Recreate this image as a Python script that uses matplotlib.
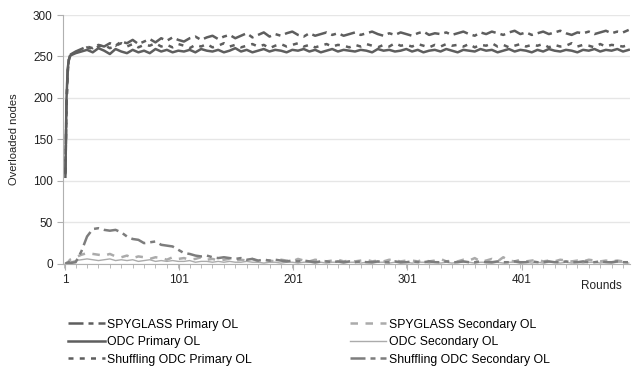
# Overloaded nodes per round: primary and secondary overload for three schemes

import matplotlib.pyplot as plt
from matplotlib.ticker import MultipleLocator

rounds = [1, 2, 3, 4] + list(range(5, 500, 5))

spyglass_primary = [108, 195, 232, 247,
    252, 256, 259, 262, 260, 264, 262, 266, 263, 268,
    266, 270, 265, 268, 271, 267, 272, 269, 273, 270,
    268, 272, 274, 270, 273, 275, 271, 274, 276, 272,
    275, 278, 273, 276, 279, 274, 277, 275, 278, 280,
    276, 274, 278, 275, 277, 279, 276, 278, 275, 277,
    279, 276, 278, 280, 277, 275, 278, 276, 279, 277,
    275, 278, 280, 276, 278, 277, 279, 276, 278, 280,
    277, 275, 279, 277, 280, 278, 276, 279, 281, 277,
    279, 276, 278, 280, 277, 279, 281, 278, 276, 279,
    278, 280, 277, 279, 281, 278, 280, 279, 282]

odc_primary = [105, 200, 235, 246,
    251, 254, 256, 258, 255, 260, 257, 253, 259, 256,
    254, 258, 255, 257, 254, 259, 256, 258, 255, 257,
    256, 258, 255, 259, 257, 256, 258, 255, 257, 260,
    256, 258, 255, 257, 259, 256, 258, 257, 255, 258,
    257, 259, 256, 258, 255, 257, 259, 256, 258, 257,
    256, 258, 257, 255, 259, 257, 258, 256, 257, 259,
    256, 258, 255, 257, 258, 256, 259, 257, 255, 258,
    257, 256, 259, 257, 258, 255, 257, 259, 256, 258,
    257, 255, 258, 256, 259, 257, 256, 258, 257, 255,
    258, 257, 259, 256, 258, 257, 259, 256, 258]

shuffling_primary = [110, 190, 230, 245,
    250, 255, 258, 261, 259, 262, 264, 260, 263, 266,
    262, 265, 261, 264, 263, 266, 262, 264, 261, 265,
    263, 260, 264, 262, 265, 261, 263, 266, 262, 264,
    261, 263, 265, 262, 264, 260, 263, 265, 262, 264,
    266, 262, 264, 261, 263, 265, 262, 264, 263, 261,
    264, 262, 265, 263, 261, 264, 262, 266, 263, 264,
    262, 265, 263, 261, 264, 262, 265, 263, 264, 262,
    265, 261, 264, 263, 266, 262, 264, 261, 263, 265,
    262, 264, 263, 265, 261, 264, 262, 263, 266, 262,
    264, 263, 261, 265, 262, 264, 263, 262, 264]

spyglass_secondary = [0, 1, 2, 3,
    5, 8, 11, 13, 12, 11, 10, 12, 9, 8,
    10, 7, 9, 8, 6, 8, 7, 5, 8, 6,
    7, 5, 6, 8, 5, 6, 4, 5, 6, 4,
    5, 4, 6, 3, 5, 4, 3, 5, 4, 3,
    6, 4, 3, 5, 4, 3, 4, 5, 3, 4,
    3, 4, 5, 3, 4, 3, 5, 4, 3, 4,
    4, 3, 5, 3, 4, 6, 3, 4, 3, 5,
    4, 7, 3, 4, 6, 3, 8, 4, 3, 5,
    3, 4, 5, 3, 4, 3, 5, 4, 3, 4,
    3, 5, 4, 3, 4, 3, 4, 3, 3]

odc_secondary = [0, 1, 1, 2,
    2, 4, 5, 6, 5, 4, 5, 6, 4, 5,
    4, 5, 3, 4, 5, 3, 4, 3, 4, 3,
    3, 4, 2, 3, 3, 2, 3, 2, 3, 2,
    2, 3, 2, 2, 1, 2, 2, 1, 2, 2,
    1, 2, 2, 1, 2, 1, 2, 2, 1, 2,
    2, 1, 2, 1, 2, 2, 1, 2, 1, 2,
    1, 2, 2, 1, 2, 1, 2, 1, 2, 2,
    2, 1, 2, 2, 1, 2, 1, 2, 2, 1,
    2, 1, 2, 1, 2, 2, 1, 2, 1, 2,
    1, 2, 2, 1, 2, 1, 2, 2, 1]

shuffling_secondary = [0, 1, 1, 2,
    1, 2, 15, 33, 42, 43, 41, 40, 41, 38,
    33, 30, 29, 25, 26, 27, 23, 22, 21, 17,
    13, 12, 10, 9, 10, 8, 7, 8, 7, 6,
    7, 5, 6, 4, 5, 4, 5, 4, 3, 4,
    3, 4, 3, 2, 3, 3, 2, 3, 2, 3,
    2, 3, 2, 2, 3, 2, 2, 3, 2, 2,
    3, 2, 2, 3, 2, 2, 3, 2, 2, 3,
    2, 2, 3, 2, 2, 3, 2, 2, 3, 2,
    2, 3, 2, 2, 3, 2, 2, 3, 2, 2,
    3, 2, 2, 3, 2, 2, 3, 2, 2]

plt.rcParams['font.family'] = ['Liberation Sans', 'DejaVu Sans']

fig = plt.figure(figsize=(6.44, 3.66), dpi=100)
ax = fig.add_axes([0.098, 0.279, 0.88, 0.68])

dark = '#5e5e5e'
mid = '#7d7d7d'
light = '#ababab'

# primaries first so the two-column legend reads primary | secondary per row
ax.plot(rounds, spyglass_primary, color=dark, lw=1.8, dashes=(6, 2, 2, 2), label='SPYGLASS Primary OL')
ax.plot(rounds, odc_primary, color=dark, lw=1.8, label='ODC Primary OL')
ax.plot(rounds, shuffling_primary, color=dark, lw=1.8, dashes=(2, 2.5), label='Shuffling ODC Primary OL')
ax.plot(rounds, spyglass_secondary, color=light, lw=1.8, dashes=(3, 3), label='SPYGLASS Secondary OL')
ax.plot(rounds, odc_secondary, color=light, lw=1.0, label='ODC Secondary OL')
ax.plot(rounds, shuffling_secondary, color=mid, lw=1.8, dashes=(6, 2, 2, 2), label='Shuffling ODC Secondary OL')

ax.set_xlim(-1, 496)
ax.set_ylim(0, 300)
ax.set_xticks([1, 101, 201, 301, 401])
ax.xaxis.set_minor_locator(MultipleLocator(10))
ax.set_yticks(range(0, 301, 50))
ax.grid(axis='y', color='#e6e6e6', lw=1)
ax.set_axisbelow(True)

for s in ['top', 'right']:
    ax.spines[s].set_visible(False)
for s in ['left', 'bottom']:
    ax.spines[s].set_color('#b0b0b0')
ax.tick_params(axis='both', labelsize=8.5, colors='#b0b0b0', labelcolor='#222222', length=4)
ax.tick_params(axis='x', which='minor', length=3, colors='#b0b0b0')
ax.set_ylabel('Overloaded nodes', fontsize=8, color='#222222', labelpad=10)
ax.text(0.95, -0.09, 'Rounds', transform=ax.transAxes, fontsize=8.5, color='#222222',
        ha='center', va='center')

ax.legend(loc='upper left', bbox_to_anchor=(0.0, -0.2), ncol=2, frameon=False,
          fontsize=8.8, handlelength=3.0, handletextpad=0.2, columnspacing=8.0,
          labelspacing=0.45, borderaxespad=0)

fig.savefig('out.png', dpi=100)
